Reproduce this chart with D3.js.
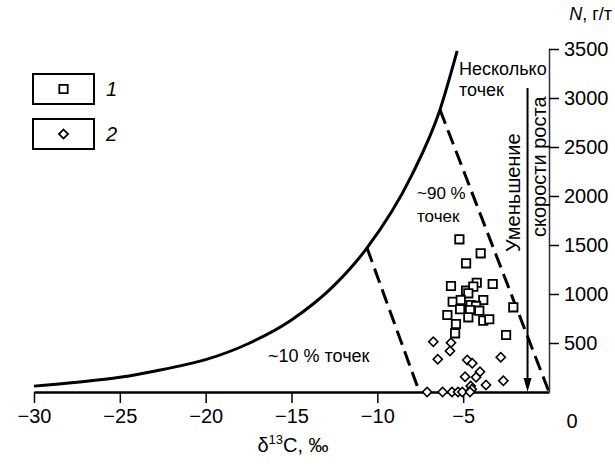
<!DOCTYPE html>
<html>
<head>
<meta charset="utf-8">
<script src="https://cdn.jsdelivr.net/npm/d3@7"></script>
<style>
  body { margin: 0; background: #fff; }
  text { font-family: "Liberation Sans", Arial, sans-serif; fill: #000; }
</style>
</head>
<body>
<script>
// envelope curve
const envX = [-30, -27.5, -25, -22.5, -20, -17.5, -15, -12.5, -10.6, -8, -6.35, -5.35];
const envN = [60, 100, 150, 230, 330, 495, 735, 1090, 1470, 2210, 2880, 3480];

// dashed boundary lines
const leftDash = [[-10.6, 1470], [-7.55, 0]];
const rightDash = [[-6.35, 2880], [0, 0]];

// series 1 - squares
const sqX = [-5.22, -3.98, -4.83, -5.71, -4.21, -3.28, -4.83, -4.41, -4.70, -5.61, -5.14, -3.83, -4.56,
             -4.25, -5.18, -4.60, -4.06, -5.92, -4.70, -3.83, -3.48, -5.42, -5.47, -2.08, -2.50];
const sqN = [1558, 1415, 1313, 1082, 1115, 1102, 1034, 1075, 1007, 921, 939, 939, 888,
             878, 844, 837, 830, 786, 762, 728, 742, 694, 599, 864, 582];

// series 2 - diamonds
const dmX = [-6.74, -5.71, -5.77, -6.48, -4.76, -4.47, -2.81, -4.02, -4.25, -4.89, -3.67, -2.66, -4.56, -4.5,
             -7.1, -6.2, -5.65, -5.3, -5.05, -4.6];
const dmN = [513, 503, 418, 334, 327, 293, 354, 207, 150, 156, 71, 115, 61, 28,
             0, 0, 0, 0, 0, 0];

const xTicks = [-30, -25, -20, -15, -10, -5];
const yTicks = [500, 1000, 1500, 2000, 2500, 3000, 3500];

const W = 615, H = 466;
const svg = d3.select("body").append("svg")
  .attr("width", W).attr("height", H);

const x = d3.scaleLinear().domain([-30, 0]).range([34, 549]);
const y = d3.scaleLinear().domain([0, 3500]).range([392, 49]);

// envelope
const env = envX.map((d, i) => [d, envN[i]]);
svg.append("path")
  .datum(env)
  .attr("fill", "none").attr("stroke", "#000").attr("stroke-width", 3)
  .attr("d", d3.line().x(d => x(d[0])).y(d => y(d[1])).curve(d3.curveMonotoneX));

// dashed lines
[leftDash, rightDash].forEach(seg => {
  svg.append("path")
    .datum(seg)
    .attr("fill", "none").attr("stroke", "#000").attr("stroke-width", 3)
    .attr("stroke-dasharray", "15,7")
    .attr("d", d3.line().x(d => x(d[0])).y(d => y(d[1])));
});

// axes
const xAxis = svg.append("g")
  .attr("transform", `translate(0,${y(0)})`)
  .call(d3.axisBottom(x).tickValues(xTicks).tickSize(11).tickSizeOuter(0)
    .tickFormat(d => "\u2212" + Math.abs(d)));
xAxis.select(".domain").attr("stroke-width", 2.5);
xAxis.selectAll(".tick line").attr("stroke-width", 1.5);
xAxis.selectAll("text").attr("font-size", 20).attr("font-family", null).attr("y", 17);

const yAxis = svg.append("g")
  .attr("transform", `translate(${x(0)},0)`)
  .call(d3.axisRight(y).tickValues(yTicks).tickSize(10).tickSizeOuter(0)
    .tickFormat(d3.format("d")));
yAxis.select(".domain").attr("stroke", "#333").attr("stroke-width", 1.5);
yAxis.selectAll(".tick line").attr("stroke-width", 1.5);
yAxis.selectAll("text").attr("font-size", 20).attr("font-family", null).attr("x", 15);

svg.append("text").attr("x", 572).attr("y", 428)
  .attr("text-anchor", "middle").attr("font-size", 20).text("0");

// points
const sym = d3.symbol().type(d3.symbolSquare).size(70);
svg.append("g").selectAll("path")
  .data(sqX.map((d, i) => [d, sqN[i]]))
  .join("path")
  .attr("transform", d => `translate(${x(d[0])},${y(d[1])})`)
  .attr("d", sym)
  .attr("fill", "#fff").attr("stroke", "#000").attr("stroke-width", 1.8);

svg.append("g").selectAll("path")
  .data(dmX.map((d, i) => [d, dmN[i]]))
  .join("path")
  .attr("transform", d => `translate(${x(d[0])},${y(d[1])}) rotate(45)`)
  .attr("d", d3.symbol().type(d3.symbolSquare).size(42))
  .attr("fill", "#fff").attr("stroke", "#000").attr("stroke-width", 1.6);

// arrow
const ax = x(-1.25);
svg.append("line").attr("x1", ax).attr("x2", ax).attr("y1", 88).attr("y2", 380)
  .attr("stroke", "#000").attr("stroke-width", 2);
svg.append("path")
  .attr("d", `M${ax},${y(0)} L${ax - 4},${y(0) - 14} L${ax + 4},${y(0) - 14} Z`)
  .attr("fill", "#000");

svg.append("text").attr("transform", `translate(520,252) rotate(-90)`)
  .attr("font-size", 20).text("Уменьшение");
svg.append("text").attr("transform", `translate(546,237) rotate(-90)`)
  .attr("font-size", 20).text("скорости роста");

// annotations
svg.append("text").attr("x", 459).attr("y", 75).attr("font-size", 18).text("Несколько");
svg.append("text").attr("x", 459).attr("y", 96).attr("font-size", 18).text("точек");
svg.append("text").attr("x", 417).attr("y", 199).attr("font-size", 17).text("~90 %");
svg.append("text").attr("x", 417).attr("y", 222).attr("font-size", 17).text("точек");
svg.append("text").attr("x", 268).attr("y", 362).attr("font-size", 18).text("~10 % точек");

// axis titles
const xt = svg.append("text").attr("x", 293).attr("y", 452)
  .attr("text-anchor", "middle").attr("font-size", 20);
xt.append("tspan").text("δ");
xt.append("tspan").attr("font-size", 13).attr("dy", -8).text("13");
xt.append("tspan").attr("dy", 8).text("C, ‰");

const yt = svg.append("text").attr("x", 612).attr("y", 20)
  .attr("text-anchor", "end").attr("font-size", 18);
yt.append("tspan").attr("font-style", "italic").text("N");
yt.append("tspan").text(", г/т");

// legend
const legend = [{label: "1", type: "sq"}, {label: "2", type: "dm"}];
legend.forEach((l, i) => {
  const g = svg.append("g").attr("transform", `translate(33,${74 + i * 45})`);
  g.append("rect").attr("width", 61).attr("height", 30)
    .attr("fill", "#fff").attr("stroke", "#000").attr("stroke-width", 2);
  g.append("path")
    .attr("transform", `translate(30.5,15)` + (l.type === "dm" ? " rotate(45)" : ""))
    .attr("d", d3.symbol().type(d3.symbolSquare).size(l.type === "dm" ? 42 : 70))
    .attr("fill", "#fff").attr("stroke", "#000").attr("stroke-width", 1.8);
  g.append("text").attr("x", 73).attr("y", 22)
    .attr("font-size", 20).attr("font-style", "italic").text(l.label);
});
</script>
</body>
</html>
